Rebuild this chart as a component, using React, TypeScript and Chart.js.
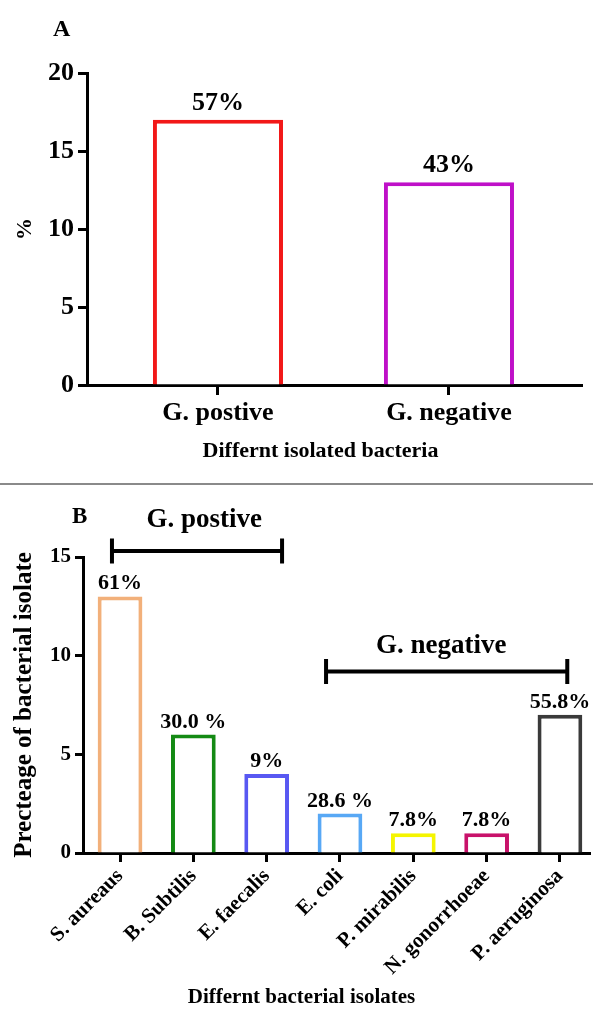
import React, { useEffect, useRef } from 'react';
import { Chart, registerables } from 'chart.js';

Chart.register(...registerables);

const FONT = "'Liberation Serif', 'Times New Roman', Times, serif";

// ---- Panel A data ----
const groupsA = ['G. postive', 'G. negative'];
const valuesA = [17, 13];
const labelsA = ['57%', '43%'];
const colorsA = ['#F21818', '#BF10C8'];
const ticksA = [0, 5, 10, 15, 20];
const xTitleA = 'Differnt isolated bacteria';
const yTitleA = '%';

// ---- Panel B data ----
const isolatesB = ['S. aureaus', 'B. Subtilis', 'E. faecalis', 'E. coli', 'P. mirabilis', 'N. gonorrhoeae', 'P. aeruginosa'];
const valuesB = [13, 6, 4, 2, 1, 1, 7];
const labelsB = ['61%', '30.0 %', '9%', '28.6 %', '7.8%', '7.8%', '55.8%'];
const colorsB = ['#F2B07A', '#148A14', '#5858F2', '#58A8F5', '#F5F500', '#C8126A', '#3A3A3A'];
const ticksB = [0, 5, 10, 15];
const xTitleB = 'Differnt bacterial isolates';
const yTitleB = 'Precteage of bacterial isolate';
const bracketNames = ['G. postive', 'G. negative'];
const bracketFrom = [-0.11, 2.81];
const bracketTo = [2.21, 6.1];
const bracketLevel = [15.3, 9.2];
const bracketTextX = [1.15, 4.38];
const bracketTextLevel = [16.5, 10.15];

const font = (size: number) => ({ family: FONT, size, weight: 'bold' as const });

const decorPlugin = {
  id: 'decor',
  afterDatasetsDraw(chart: any, _args: any, opts: any) {
    const { ctx, chartArea } = chart;
    const xs = chart.scales.x;
    const ys = chart.scales.y;
    ctx.save();
    ctx.fillStyle = '#000';
    ctx.strokeStyle = '#000';
    ctx.textBaseline = 'alphabetic';
    // value labels above bars
    ctx.font = `bold ${opts.labelSize}px ${FONT}`;
    ctx.textAlign = 'center';
    const meta = chart.getDatasetMeta(0);
    meta.data.forEach((el: any, i: number) => {
      ctx.fillText(opts.labels[i], el.x, el.y - opts.labelGap);
    });
    // x axis title
    ctx.font = `bold ${opts.xTitleSize}px ${FONT}`;
    ctx.fillText(opts.xTitle, (chartArea.left + chartArea.right) / 2 + opts.xTitleDx, chartArea.bottom + opts.xTitleDy);
    // panel letter
    ctx.font = `bold ${opts.letterSize}px ${FONT}`;
    ctx.textAlign = 'left';
    ctx.fillText(opts.letter, chartArea.left + opts.letterDx, chartArea.top + opts.letterDy);
    // group brackets
    const br = opts.brackets;
    if (br) {
      ctx.lineWidth = 4;
      ctx.lineCap = 'butt';
      br.names.forEach((name: string, i: number) => {
        const x0 = xs.getPixelForValue(br.from[i]);
        const x1 = xs.getPixelForValue(br.to[i]);
        const y = ys.getPixelForValue(br.level[i]);
        ctx.beginPath();
        ctx.moveTo(x0, y);
        ctx.lineTo(x1, y);
        ctx.moveTo(x0, y - 12.5);
        ctx.lineTo(x0, y + 12.5);
        ctx.moveTo(x1, y - 12.5);
        ctx.lineTo(x1, y + 12.5);
        ctx.stroke();
        ctx.font = `bold ${br.size}px ${FONT}`;
        ctx.textAlign = 'center';
        ctx.fillText(name, xs.getPixelForValue(br.textX[i]), ys.getPixelForValue(br.textLevel[i]));
      });
    }
    ctx.restore();
  },
};

function axisCommon(tickLen: number) {
  return {
    offset: false,
    grid: { offset: false, drawOnChartArea: false, drawTicks: true, tickLength: tickLen, tickWidth: 3, tickColor: '#000' },
    border: { display: true, width: 3, color: '#000' },
  };
}

export default function App() {
  const refA = useRef<HTMLCanvasElement>(null);
  const refB = useRef<HTMLCanvasElement>(null);

  useEffect(() => {
    const chartA = new Chart(refA.current as HTMLCanvasElement, {
      type: 'bar',
      data: {
        datasets: [
          {
            data: valuesA.map((v, i) => ({ x: i, y: v })),
            borderColor: colorsA,
            backgroundColor: '#ffffff',
            borderWidth: 4,
            barPercentage: 0.563,
            categoryPercentage: 1,
          },
        ],
      },
      plugins: [decorPlugin],
      options: {
        animation: false,
        responsive: false,
        maintainAspectRatio: false,
        layout: { padding: { top: 73, left: 0, right: 11, bottom: 0 } },
        plugins: {
          legend: { display: false },
          tooltip: { enabled: false },
          decor: {
            labels: labelsA, labelSize: 26, labelGap: 10,
            letter: 'A', letterSize: 24, letterDx: -34, letterDy: -37,
            xTitle: xTitleA, xTitleSize: 22, xTitleDx: -14, xTitleDy: 72,
          },
        } as any,
        scales: {
          x: {
            type: 'linear',
            min: -0.567,
            max: 1.576,
            afterBuildTicks: (s: any) => { s.ticks = groupsA.map((_, i) => ({ value: i })); },
            afterFit: (s: any) => { s.height = 98; },
            ticks: { callback: (v: any) => groupsA[v], font: font(26), color: '#000', padding: 3, maxRotation: 0, autoSkip: false },
            ...axisCommon(10),
          },
          y: {
            min: 0,
            max: 20,
            afterBuildTicks: (s: any) => { s.ticks = ticksA.map((v) => ({ value: v })); },
            afterFit: (s: any) => { s.width = 87; },
            ticks: { font: font(26), color: '#000', padding: 4 },
            ...axisCommon(9),
            title: { display: true, text: yTitleA, font: font(22), color: '#000', padding: { top: 12, bottom: 0 } },
          },
        },
      } as any,
    });

    const chartB = new Chart(refB.current as HTMLCanvasElement, {
      type: 'bar',
      data: {
        datasets: [
          {
            data: valuesB.map((v, i) => ({ x: i, y: v })),
            borderColor: colorsB,
            backgroundColor: '#ffffff',
            borderWidth: 4,
            barPercentage: 0.61,
            categoryPercentage: 1,
          },
        ],
      },
      plugins: [decorPlugin],
      options: {
        animation: false,
        responsive: false,
        maintainAspectRatio: false,
        layout: { padding: { top: 72, left: 0, right: 3, bottom: 0 } },
        plugins: {
          legend: { display: false },
          tooltip: { enabled: false },
          decor: {
            labels: labelsB, labelSize: 22, labelGap: 7,
            letter: 'B', letterSize: 23, letterDx: -11, letterDy: -34,
            xTitle: xTitleB, xTitleSize: 21, xTitleDx: -35, xTitleDy: 150,
            brackets: {
              names: bracketNames, from: bracketFrom, to: bracketTo, level: bracketLevel,
              textX: bracketTextX, textLevel: bracketTextLevel, size: 27,
            },
          },
        } as any,
        scales: {
          x: {
            type: 'linear',
            min: -0.505,
            max: 6.41,
            afterBuildTicks: (s: any) => { s.ticks = isolatesB.map((_, i) => ({ value: i })); },
            afterFit: (s: any) => { s.height = 157; },
            ticks: { callback: (v: any) => isolatesB[v], font: font(21), color: '#000', padding: 2, minRotation: 45, maxRotation: 45, autoSkip: false },
            ...axisCommon(9),
          },
          y: {
            min: 0,
            max: 15,
            afterBuildTicks: (s: any) => { s.ticks = ticksB.map((v) => ({ value: v })); },
            afterFit: (s: any) => { s.width = 83; },
            ticks: { font: font(21), color: '#000', padding: 4 },
            ...axisCommon(8),
            title: { display: true, text: yTitleB, font: font(25), color: '#000', padding: { top: 10, bottom: 0 } },
          },
        },
      } as any,
    });

    return () => {
      chartA.destroy();
      chartB.destroy();
    };
  }, []);

  return (
    <div style={{ position: 'absolute', left: 0, top: 0, width: 593, height: 1010, background: '#ffffff', overflow: 'hidden' }}>
      <canvas ref={refA} width={593} height={483} style={{ display: 'block' }} />
      <div style={{ height: 2, background: '#8a8a8a' }} />
      <canvas ref={refB} width={593} height={525} style={{ display: 'block' }} />
    </div>
  );
}
